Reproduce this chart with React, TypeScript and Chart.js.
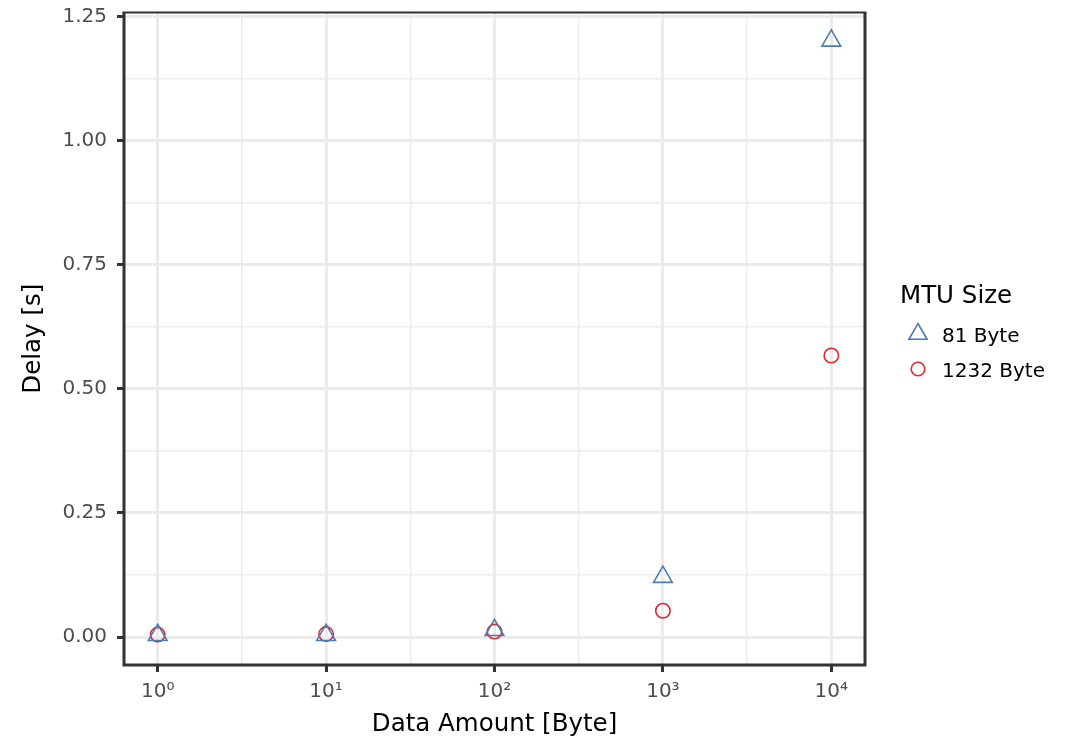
import React, { useEffect, useRef } from "react";
import { Chart, registerables } from "chart.js";

Chart.register(...registerables);

const dataAmounts = [1, 10, 100, 1000, 10000];
const delay81 = [0.004, 0.004, 0.014, 0.121, 1.201];
const delay1232 = [0.005, 0.006, 0.011, 0.053, 0.567];
const seriesNames = ["81 Byte", "1232 Byte"];
const seriesColors = ["#4A7DB4", "#E8262B"];
const xExponents = [0, 0.5, 1, 1.5, 2, 2.5, 3, 3.5, 4];
const xTickLabels = ["10\u2070", "10\u00B9", "10\u00B2", "10\u00B3", "10\u2074"];
const yTicks = [0, 0.125, 0.25, 0.375, 0.5, 0.625, 0.75, 0.875, 1, 1.125, 1.25];
const yMajorTicks = [0, 0.25, 0.5, 0.75, 1, 1.25];
const legendTitle = "MTU Size";
const xTitle = "Data Amount [Byte]";
const yTitle = "Delay [s]";

const FONT = "'DejaVu Sans', sans-serif";
const GRID = "#EBEBEB";
const FRAME = "#333333";

const isMajorX = (v: number) => {
  const e = Math.log10(v);
  return Math.abs(e - Math.round(e)) < 1e-6;
};
const isMajorY = (v: number) => yMajorTicks.some((m) => Math.abs(m - v) < 1e-9);

const framePlugin = {
  id: "frame",
  afterDatasetsDraw(chart: any) {
    const { ctx, chartArea } = chart;
    const { left, right, top, bottom } = chartArea;
    ctx.save();
    ctx.strokeStyle = FRAME;
    ctx.lineWidth = 3;
    ctx.beginPath();
    ctx.moveTo(left, top);
    ctx.lineTo(left, bottom);
    ctx.lineTo(right, bottom);
    ctx.lineTo(right, top);
    ctx.stroke();
    ctx.lineWidth = 2;
    ctx.beginPath();
    ctx.moveTo(left - 1.5, top);
    ctx.lineTo(right + 1.5, top);
    ctx.stroke();
    ctx.restore();
  },
};

const legendPlugin = {
  id: "customLegend",
  afterDraw(chart: any) {
    const { ctx } = chart;
    ctx.save();
    ctx.fillStyle = "#000";
    ctx.textBaseline = "alphabetic";
    ctx.textAlign = "left";
    ctx.font = `24.5px ${FONT}`;
    ctx.fillText(legendTitle, 900, 303);
    ctx.font = `20px ${FONT}`;
    const rows = [
      { y: 334, style: "triangle" },
      { y: 369, style: "circle" },
    ];
    chart.data.datasets.forEach((ds: any, i: number) => {
      const cy = rows[i].y;
      const cx = 918;
      ctx.strokeStyle = ds.borderColor;
      ctx.lineWidth = 1.6;
      ctx.beginPath();
      if (rows[i].style === "triangle") {
        const r = 10.5;
        for (let k = 0; k < 3; k++) {
          const a = (k * 2 * Math.PI) / 3;
          const px = cx + Math.sin(a) * r;
          const py = cy - Math.cos(a) * r;
          if (k === 0) ctx.moveTo(px, py);
          else ctx.lineTo(px, py);
        }
        ctx.closePath();
      } else {
        ctx.arc(cx, cy, 6.8, 0, Math.PI * 2);
      }
      ctx.stroke();
      ctx.fillStyle = "#000";
      ctx.fillText(ds.label, 942, cy + 8);
    });
    ctx.restore();
  },
};

export default function App() {
  const ref = useRef<HTMLCanvasElement | null>(null);

  useEffect(() => {
    if (!ref.current) return;
    const chart = new Chart(ref.current, {
      type: "scatter",
      data: {
        datasets: [
          {
            label: seriesNames[0],
            data: dataAmounts.map((x, i) => ({ x, y: delay81[i] })),
            pointStyle: "triangle",
            pointRadius: 10.8,
            pointBorderWidth: 1.6,
            borderColor: seriesColors[0],
            backgroundColor: "rgba(0,0,0,0)",
          },
          {
            label: seriesNames[1],
            data: dataAmounts.map((x, i) => ({ x, y: delay1232[i] })),
            pointStyle: "circle",
            pointRadius: 7.2,
            pointBorderWidth: 1.6,
            borderColor: seriesColors[1],
            backgroundColor: "rgba(0,0,0,0)",
          },
        ],
      },
      options: {
        animation: false,
        responsive: false,
        devicePixelRatio: 1,
        layout: { padding: { top: 11, right: 211, bottom: 0, left: 0 } },
        plugins: {
          legend: { display: false },
          tooltip: { enabled: false },
        },
        scales: {
          x: {
            type: "logarithmic",
            bounds: "data",
            min: Math.pow(10, -0.2),
            max: Math.pow(10, 4.2),
            afterBuildTicks: (scale: any) => {
              scale.ticks = xExponents.map((e) => ({ value: Math.pow(10, e) }));
            },
            afterFit: (scale: any) => {
              scale.height = 75;
              scale.paddingLeft = 0;
              scale.paddingRight = 0;
            },
            border: { display: false },
            grid: {
              color: GRID,
              lineWidth: (c: any) => (c.tick && isMajorX(c.tick.value) ? 3 : 1.4),
              drawTicks: true,
              tickLength: 7,
              tickWidth: 3,
              tickColor: (c: any) => (c.tick && isMajorX(c.tick.value) ? FRAME : "rgba(0,0,0,0)"),
            },
            ticks: {
              autoSkip: false,
              maxRotation: 0,
              padding: 8,
              color: "#4D4D4D",
              font: { family: FONT, size: 20 },
              callback: (v: any) => {
                const val = Number(v);
                if (!isMajorX(val)) return "";
                return xTickLabels[Math.round(Math.log10(val))];
              },
            },
            title: {
              display: true,
              text: xTitle,
              color: "#000",
              font: { family: FONT, size: 24.5 },
              padding: { top: 0, bottom: 1 },
            },
          },
          y: {
            type: "linear",
            min: -0.0563,
            max: 1.258,
            afterBuildTicks: (scale: any) => {
              scale.ticks = yTicks.map((v) => ({ value: v }));
            },
            afterFit: (scale: any) => {
              scale.width = 124;
              scale.paddingTop = 0;
              scale.paddingBottom = 0;
            },
            border: { display: false },
            grid: {
              color: GRID,
              lineWidth: (c: any) => (c.tick && isMajorY(c.tick.value) ? 3 : 1.4),
              drawTicks: true,
              tickLength: 7,
              tickWidth: 3,
              tickColor: (c: any) => (c.tick && isMajorY(c.tick.value) ? FRAME : "rgba(0,0,0,0)"),
            },
            ticks: {
              autoSkip: false,
              padding: 10,
              color: "#4D4D4D",
              font: { family: FONT, size: 20 },
              callback: (v: any) => {
                const val = Number(v);
                return isMajorY(val) ? val.toFixed(2) : "";
              },
            },
            title: {
              display: true,
              text: yTitle,
              color: "#000",
              font: { family: FONT, size: 24.5 },
              padding: { top: 19, bottom: 0 },
            },
          },
        },
      },
      plugins: [framePlugin, legendPlugin],
    } as any);
    return () => chart.destroy();
  }, []);

  return (
    <div style={{ position: "fixed", left: 0, top: 0, width: 1076, height: 740, background: "#fff" }}>
      <canvas ref={ref} width={1076} height={740} style={{ width: 1076, height: 740 }} />
    </div>
  );
}
